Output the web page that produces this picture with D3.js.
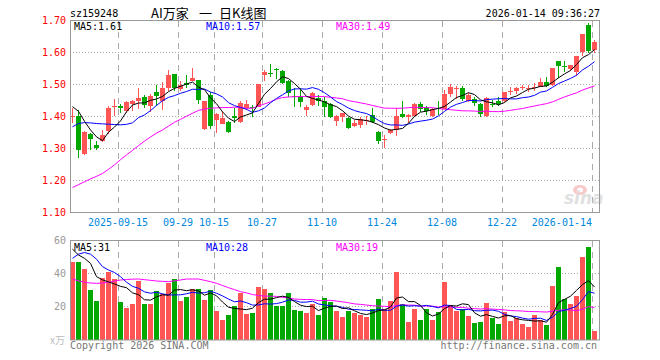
<!DOCTYPE html>
<html>
<head>
<meta charset="utf-8">
<script src="https://cdn.jsdelivr.net/npm/d3@7"></script>
<style>
  body { margin: 0; background: #fff; }
  text { font-family: "DejaVu Sans Mono", monospace; font-size: 10px; }
</style>
</head>
<body>
<svg id="chart" width="660" height="360"></svg>
<script>
// trading days shown (2025-09-03 .. 2026-01-14)
const dates = [
  "2025-09-03","2025-09-04","2025-09-05","2025-09-08","2025-09-09","2025-09-10","2025-09-11","2025-09-12",
  "2025-09-15","2025-09-16","2025-09-17","2025-09-18","2025-09-19","2025-09-22","2025-09-23","2025-09-24",
  "2025-09-25","2025-09-26","2025-09-29","2025-09-30","2025-10-09","2025-10-10","2025-10-13","2025-10-14",
  "2025-10-15","2025-10-16","2025-10-17","2025-10-20","2025-10-21","2025-10-22","2025-10-23","2025-10-24",
  "2025-10-27","2025-10-28","2025-10-29","2025-10-30","2025-10-31","2025-11-03","2025-11-04","2025-11-05",
  "2025-11-06","2025-11-07","2025-11-10","2025-11-11","2025-11-12","2025-11-13","2025-11-14","2025-11-17",
  "2025-11-18","2025-11-19","2025-11-20","2025-11-21","2025-11-24","2025-11-25","2025-11-26","2025-11-27",
  "2025-11-28","2025-12-01","2025-12-02","2025-12-03","2025-12-04","2025-12-05","2025-12-08","2025-12-09",
  "2025-12-10","2025-12-11","2025-12-12","2025-12-15","2025-12-16","2025-12-17","2025-12-18","2025-12-19",
  "2025-12-22","2025-12-23","2025-12-24","2025-12-25","2025-12-26","2025-12-29","2025-12-30","2025-12-31",
  "2026-01-05","2026-01-06","2026-01-07","2026-01-08","2026-01-09","2026-01-12","2026-01-13","2026-01-14"
];

const open = [
  1.400,1.402,1.282,1.346,1.310,1.322,1.355,1.430,1.432,1.418,1.438,1.447,1.460,1.434,1.477,1.450,
  1.490,1.532,1.486,1.505,1.512,1.514,1.360,1.468,1.390,1.377,1.384,1.402,1.384,1.426,1.431,1.431,
  1.529,1.536,1.549,1.543,1.512,1.465,1.465,1.419,1.436,1.459,1.447,1.440,1.386,1.400,1.395,1.369,
  1.374,1.388,1.405,1.353,1.327,1.348,1.358,1.408,1.398,1.402,1.438,1.429,1.402,1.426,1.423,1.470,
  1.488,1.488,1.447,1.456,1.438,1.402,1.440,1.447,1.449,1.478,1.480,1.490,1.488,1.490,1.492,1.507,
  1.497,1.572,1.558,1.549,1.540,1.602,1.686,1.609
];
const high = [
  1.426,1.419,1.355,1.348,1.322,1.358,1.434,1.455,1.440,1.450,1.452,1.490,1.467,1.470,1.498,1.508,
  1.545,1.533,1.511,1.531,1.552,1.515,1.450,1.478,1.410,1.416,1.385,1.426,1.447,1.452,1.436,1.502,
  1.546,1.565,1.553,1.544,1.513,1.489,1.489,1.436,1.478,1.468,1.460,1.441,1.405,1.412,1.400,1.390,
  1.400,1.402,1.426,1.356,1.343,1.360,1.426,1.449,1.408,1.442,1.446,1.433,1.428,1.449,1.483,1.502,
  1.495,1.495,1.475,1.460,1.441,1.462,1.451,1.462,1.478,1.491,1.491,1.499,1.499,1.504,1.520,1.522,
  1.552,1.573,1.575,1.562,1.589,1.659,1.692,1.640
];
const low = [
  1.380,1.269,1.280,1.296,1.295,1.319,1.345,1.403,1.410,1.412,1.418,1.424,1.426,1.414,1.434,1.419,
  1.480,1.480,1.481,1.490,1.510,1.440,1.357,1.360,1.350,1.376,1.348,1.379,1.379,1.421,1.400,1.430,
  1.512,1.523,1.517,1.501,1.460,1.431,1.431,1.402,1.434,1.434,1.400,1.395,1.369,1.384,1.362,1.367,
  1.364,1.374,1.379,1.315,1.301,1.346,1.340,1.395,1.381,1.400,1.415,1.405,1.399,1.405,1.422,1.460,
  1.454,1.449,1.445,1.432,1.399,1.400,1.430,1.434,1.445,1.466,1.470,1.484,1.478,1.481,1.491,1.493,
  1.494,1.520,1.540,1.543,1.527,1.589,1.598,1.600
];
const close = [
  1.402,1.294,1.353,1.331,1.302,1.343,1.426,1.433,1.426,1.445,1.449,1.457,1.437,1.465,1.465,1.490,
  1.531,1.488,1.498,1.500,1.521,1.452,1.448,1.371,1.408,1.394,1.353,1.395,1.442,1.440,1.426,1.501,
  1.538,1.532,1.544,1.506,1.473,1.460,1.444,1.431,1.475,1.447,1.431,1.400,1.402,1.410,1.364,1.381,
  1.392,1.390,1.384,1.325,1.330,1.358,1.402,1.398,1.405,1.440,1.423,1.417,1.422,1.425,1.470,1.491,
  1.489,1.454,1.468,1.441,1.408,1.459,1.437,1.438,1.476,1.481,1.488,1.492,1.489,1.493,1.509,1.494,
  1.551,1.557,1.555,1.561,1.588,1.658,1.605,1.634
];
// volume, in 万
const volume = [
  47.0,47.0,42.8,30.0,23.4,37.2,40.8,36.8,22.8,19.4,21.6,35.4,21.6,21.6,29.2,27.8,
  34.2,36.8,23.4,25.8,30.6,30.6,24.0,30.0,17.4,12.0,15.0,20.4,28.2,15.6,16.2,31.8,
  30.6,28.2,20.4,20.4,28.2,18.0,17.4,16.2,21.6,15.0,25.2,22.8,17.4,13.8,17.4,16.2,
  15.0,13.8,18.6,24.6,18.6,23.4,40.8,21.6,10.8,18.6,12.0,18.6,12.0,16.8,34.8,21.0,
  17.4,18.6,14.4,10.2,10.8,22.2,13.2,9.6,16.8,11.4,13.2,9.6,7.8,15.0,12.0,9.0,
  32.4,43.8,24.6,21.6,26.4,49.8,55.8,5.4
];

// moving-average values at the left edge (their windows start before the first shown day)
const ma5Head = [1.431,1.416,1.385,1.358];
const ma10Head = [1.368,1.378,1.381,1.380,1.378,1.377,1.376,1.375,1.374];
const ma30Head = [
  1.178,1.187,1.196,1.205,1.213,1.222,1.235,1.249,1.265,1.280,1.294,1.309,1.323,1.336,1.348,
  1.358,1.370,1.382,1.391,1.401,1.410,1.419,1.423,1.426,1.427,1.428,1.428,1.429,1.429
];
const vMa5Head = [54.5,51.0,49.0,46.0];
const vMa10Head = [49.0,51.5,52.5,51.5,48.5,44.0,42.0,40.5,38.0];
const vMa30Head = [
  36.6,35.5,34.6,34.2,34.0,34.2,34.6,35.3,36.0,36.3,36.5,36.6,36.2,35.8,35.4,
  35.2,35.0,35.5,36.0,36.6,36.6,36.6,35.8,35.0,34.0,32.7,31.4,30.2,29.0
];

const priceTicks = [1.10,1.20,1.30,1.40,1.50,1.60,1.70];
const volTicks = [20,40,60];
const tickDates = ["2025-09-15","2025-09-29","2025-10-15","2025-10-27","2025-11-10","2025-11-24","2025-12-08","2025-12-22","2026-01-14"];
const tickLabels = ["2025-09-15","09-29","10-15","10-27","11-10","11-24","12-08","12-22","2026-01-14"];
const priceLegend = ["MA5:1.61","MA10:1.57","MA30:1.49"];
const volLegend = ["MA5:31","MA10:28","MA30:19"];

const RED = "#ff5555", GREEN = "#00a800";
const maColors = ["#000000", "#0000ff", "#ff00ff"];

function movingAvg(vals, n, head) {
  return vals.map((v, i) => i < n - 1 ? head[i] : d3.mean(vals.slice(i - n + 1, i + 1)));
}

const svg = d3.select("#chart");
const left = 70, right = 599;

var x = d3.scaleBand().domain(dates).range([left, left + 6 * dates.length - 1]).paddingInner(1 / 6);
var bw = x.bandwidth();
var yP = d3.scaleLinear().domain([1.10, 1.70]).range([212.5, 20.5]);
var yV = d3.scaleLinear().domain([0, 60]).range([340, 240]);

// header
svg.append("text").attr("x", 70).attr("y", 16.5).text("sz159248");
var title = svg.append("text").attr("y", 17.5)
  .style("font-family", "'Noto Sans CJK SC', sans-serif").style("font-size", "13px");
title.append("tspan").attr("x", 151).text("AI万家");
title.append("tspan").attr("x", 199).text("一");
title.append("tspan").attr("x", 219).text("日K线图");
svg.append("text").attr("x", 600).attr("y", 16.5).attr("text-anchor", "end").text("2026-01-14 09:36:27");

// grid
function panelGrid(top, bottom, hVals, yScale) {
  svg.append("g").selectAll("line").data(hVals).enter().append("line")
    .attr("x1", left).attr("x2", right)
    .attr("y1", d => Math.floor(yScale(d)) + 0.5).attr("y2", d => Math.floor(yScale(d)) + 0.5)
    .attr("stroke", "#aaa").attr("stroke-dasharray", "1,2");
  svg.append("g").selectAll("line").data(tickDates).enter().append("line")
    .attr("x1", d => x(d) + 0.5).attr("x2", d => x(d) + 0.5)
    .attr("y1", top).attr("y2", bottom)
    .attr("stroke", "#aaa").attr("stroke-dasharray", "6,5");
}
panelGrid(21, 212, [1.20, 1.30, 1.40, 1.50, 1.60], yP);
panelGrid(241, 340, [20, 40], yV);

// watermark
var wm = svg.append("g").attr("opacity", 0.55);
wm.append("ellipse").attr("cx", 580).attr("cy", 190).attr("rx", 7).attr("ry", 5).attr("fill", "#f0a0a0");
wm.append("ellipse").attr("cx", 580).attr("cy", 190).attr("rx", 3).attr("ry", 2.2).attr("fill", "#fff");
wm.append("text").attr("x", 564).attr("y", 204)
  .style("font-family", "'DejaVu Sans', sans-serif").style("font-size", "17px")
  .style("font-weight", "bold").style("font-style", "italic").attr("fill", "#c8c8c8").text("sina");

// candles
var candles = svg.append("g").attr("shape-rendering", "crispEdges");
var g = candles.selectAll("g").data(dates).enter().append("g");
g.append("line")
  .attr("x1", d => x(d) + 2.5).attr("x2", d => x(d) + 2.5)
  .attr("y1", (d, i) => yP(high[i])).attr("y2", (d, i) => yP(low[i]))
  .attr("stroke", (d, i) => close[i] >= open[i] ? RED : GREEN);
g.append("rect")
  .attr("x", d => x(d)).attr("width", bw)
  .attr("y", (d, i) => yP(Math.max(open[i], close[i])))
  .attr("height", (d, i) => Math.max(1, Math.abs(yP(open[i]) - yP(close[i]))))
  .attr("fill", (d, i) => close[i] >= open[i] ? RED : GREEN);

// volume bars
svg.append("g").attr("shape-rendering", "crispEdges")
  .selectAll("rect").data(dates).enter().append("rect")
  .attr("x", d => x(d)).attr("width", bw)
  .attr("y", (d, i) => yV(volume[i]))
  .attr("height", (d, i) => 340 - yV(volume[i]))
  .attr("fill", (d, i) => close[i] >= open[i] ? RED : GREEN);

// moving averages
var priceMAs = [movingAvg(close, 5, ma5Head), movingAvg(close, 10, ma10Head), movingAvg(close, 30, ma30Head)];
var volMAs = [movingAvg(volume, 5, vMa5Head), movingAvg(volume, 10, vMa10Head), movingAvg(volume, 30, vMa30Head)];
var lineP = d3.line().x((d, i) => x(dates[i]) + 2.5).y(d => yP(d));
var lineV = d3.line().x((d, i) => x(dates[i]) + 2.5).y(d => yV(d));
priceMAs.slice().reverse().forEach((s, k) => {
  svg.append("path").datum(s).attr("d", lineP).attr("fill", "none")
    .attr("stroke", maColors[2 - k]).attr("stroke-width", 1);
});
volMAs.slice().reverse().forEach((s, k) => {
  svg.append("path").datum(s).attr("d", lineV).attr("fill", "none")
    .attr("stroke", maColors[2 - k]).attr("stroke-width", 1);
});

// frames
svg.append("rect").attr("x", left + 0.5).attr("y", 20.5).attr("width", right - left).attr("height", 192)
  .attr("fill", "none").attr("stroke", "#999");
svg.append("rect").attr("x", left + 0.5).attr("y", 240.5).attr("width", right - left).attr("height", 99.5)
  .attr("fill", "none").attr("stroke", "#999");

// price axis labels
var ax = svg.append("g").attr("transform", "translate(" + left + ",0)")
  .call(d3.axisLeft(yP).tickValues(priceTicks).tickFormat(d3.format(".2f")).tickSize(0).tickPadding(4));
ax.select(".domain").remove();
ax.selectAll("text").attr("fill", "#ff0000")
  .style("font-family", "'DejaVu Sans Mono', monospace").style("font-size", "10px");

// volume axis labels
var vax = svg.append("g").attr("transform", "translate(" + left + ",0)")
  .call(d3.axisLeft(yV).tickValues(volTicks).tickSize(0).tickPadding(4));
vax.select(".domain").remove();
vax.selectAll("text").attr("fill", "#999")
  .style("font-family", "'DejaVu Sans Mono', monospace").style("font-size", "10px");
svg.append("text").attr("x", 65).attr("y", 344).attr("text-anchor", "end").attr("fill", "#bbb")
  .style("font-family", "'Noto Sans CJK SC', sans-serif").text("x万");

// date labels
svg.append("g").selectAll("text").data(tickDates).enter().append("text")
  .attr("x", d => x(d))
  .attr("y", 225.5)
  .attr("text-anchor", (d, i) => i === tickDates.length - 1 ? "end" : "middle")
  .attr("fill", "#0088dd")
  .text((d, i) => tickLabels[i]);

// legends
var legX = [74, 206, 336];
svg.append("g").selectAll("text").data(priceLegend).enter().append("text")
  .attr("x", (d, i) => legX[i]).attr("y", 29.5).attr("fill", (d, i) => maColors[i]).text(d => d);
svg.append("g").selectAll("text").data(volLegend).enter().append("text")
  .attr("x", (d, i) => legX[i]).attr("y", 250.5).attr("fill", (d, i) => maColors[i]).text(d => d);

// footer
svg.append("text").attr("x", 70).attr("y", 349).attr("fill", "#777").text("Copyright 2026 SINA.COM");
svg.append("text").attr("x", 597).attr("y", 349).attr("text-anchor", "end").attr("fill", "#777").text("http://finance.sina.com.cn");
</script>
</body>
</html>
